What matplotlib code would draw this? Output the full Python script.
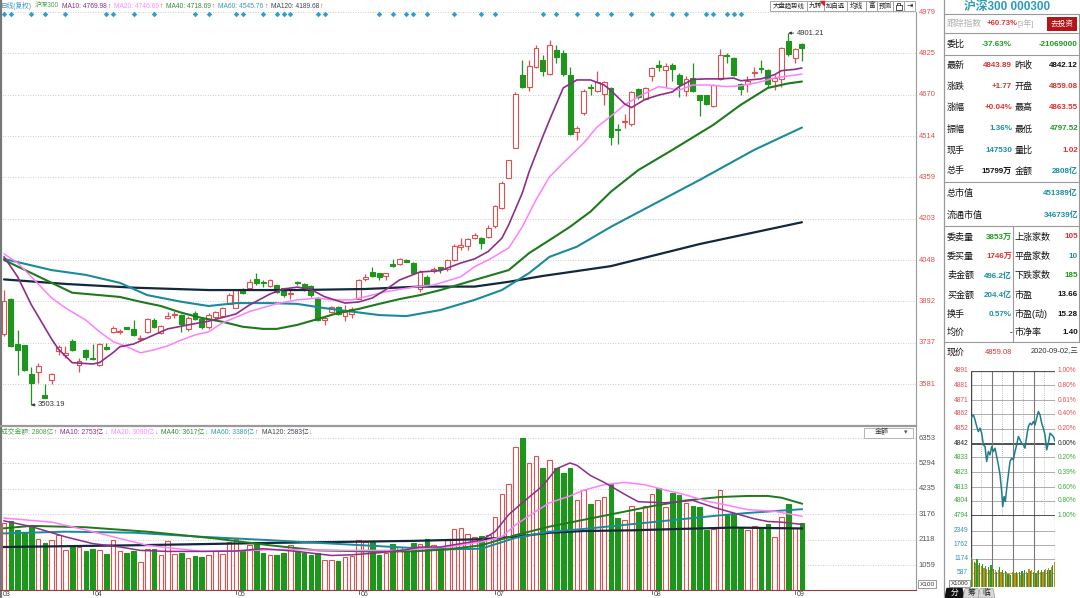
import matplotlib
matplotlib.use('Agg')
import matplotlib.pyplot as plt
from matplotlib.patches import Rectangle, Polygon
from matplotlib.transforms import blended_transform_factory as btf

plt.rcParams['font.family'] = ['Liberation Sans', 'Noto Sans CJK SC', 'DejaVu Sans']
plt.rcParams['axes.unicode_minus'] = False

# ---------------- data ----------------
month_tick_idx = [-0.5, 13, 34, 52, 72, 95, 116]
month_labels = ['03', '04', '05', '06', '07', '08', '09']

opens = [3769, 3901, 3734, 3728, 3620, 3627, 3539, 3595, 3705, 3690,
         3743, 3655, 3708, 3680, 3655, 3720, 3777, 3778, 3795, 3790,
         3750, 3777, 3821, 3774, 3831, 3841, 3841, 3787, 3850, 3825,
         3795, 3833, 3836, 3884, 3868, 3938, 3944, 3976, 3966, 3951,
         3953, 3941, 3919, 3966, 3957, 3949, 3905, 3822, 3852, 3871,
         3836, 3846, 3903, 3975, 4004, 4000, 3989, 4032, 4032, 4048,
         4036, 3938, 3985, 4006, 4020, 4013, 4048, 4098, 4101, 4132,
         4132, 4133, 4176, 4242, 4357, 4470, 4744, 4700, 4775, 4800,
         4748, 4838, 4825, 4745, 4529, 4600, 4700, 4685, 4673, 4696,
         4540, 4568, 4559, 4690, 4655, 4738, 4780, 4763, 4780, 4743,
         4684, 4731, 4668, 4668, 4628, 4730, 4820, 4806, 4709, 4711,
         4750, 4771, 4761, 4721, 4728, 4871, 4806, 4859.08]
highs = [3935, 3905, 3783, 3730, 3645, 3661, 3581, 3622, 3728, 3725,
         3752, 3680, 3712, 3731, 3735, 3737, 3800, 3790, 3797, 3821,
         3766, 3830, 3830, 3805, 3853, 3855, 3845, 3837, 3855, 3830,
         3848, 3858, 3871, 3924, 3934, 3944, 3978, 4000, 3972, 3978,
         3955, 3944, 3935, 3970, 3960, 3955, 3908, 3838, 3875, 3875,
         3877, 3871, 3975, 3994, 4020, 4000, 4000, 4050, 4055, 4050,
         4040, 4011, 3990, 4020, 4022, 4050, 4110, 4129, 4130, 4148,
         4135, 4180, 4255, 4345, 4425, 4680, 4800, 4800, 4855, 4820,
         4876, 4855, 4838, 4775, 4550, 4690, 4710, 4760, 4720, 4700,
         4559, 4596, 4685, 4695, 4700, 4775, 4800, 4790, 4790, 4750,
         4740, 4790, 4670, 4670, 4710, 4840, 4825, 4810, 4712, 4740,
         4775, 4800, 4765, 4745, 4850, 4901.21, 4845, 4863.55]
lows = [3762, 3720, 3615, 3630, 3503.19, 3586, 3528, 3580, 3690, 3680,
        3707, 3628, 3673, 3672, 3650, 3708, 3773, 3770, 3788, 3762,
        3744, 3773, 3793, 3770, 3825, 3830, 3778, 3780, 3822, 3790,
        3790, 3820, 3834, 3881, 3866, 3919, 3940, 3953, 3947, 3948,
        3925, 3909, 3903, 3955, 3930, 3910, 3820, 3802, 3848, 3843,
        3820, 3831, 3900, 3969, 3985, 3972, 3972, 4020, 4030, 4040,
        3998, 3929, 3955, 4000, 4000, 4005, 4045, 4085, 4085, 4128,
        4090, 4130, 4168, 4238, 4355, 4468, 4695, 4685, 4770, 4740,
        4745, 4790, 4740, 4518, 4500, 4595, 4670, 4680, 4630, 4480,
        4484, 4546, 4550, 4655, 4650, 4720, 4760, 4700, 4720, 4660,
        4665, 4680, 4590, 4630, 4625, 4725, 4790, 4740, 4670, 4680,
        4735, 4750, 4700, 4688, 4700, 4815, 4790, 4797.52]
closes = [3894, 3724, 3708, 3634, 3586, 3651, 3529, 3620, 3720, 3698,
          3709, 3670, 3683, 3674, 3731, 3712, 3793, 3781, 3790, 3765,
          3755, 3825, 3796, 3800, 3837, 3846, 3808, 3829, 3825, 3796,
          3843, 3852, 3868, 3915, 3934, 3925, 3966, 3963, 3960, 3972,
          3928, 3915, 3925, 3960, 3934, 3915, 3823, 3830, 3871, 3846,
          3852, 3865, 3972, 3985, 3987, 3985, 4000, 4027, 4050, 4042,
          4001, 4002, 3958, 4016, 4015, 4048, 4101, 4104, 4126, 4142,
          4113, 4167, 4250, 4339, 4423, 4673, 4700, 4779, 4844, 4758,
          4856, 4810, 4748, 4520, 4545, 4685, 4695, 4716, 4716, 4509,
          4535, 4571, 4680, 4661, 4696, 4771, 4775, 4778, 4765, 4709,
          4728, 4684, 4650, 4636, 4705, 4818, 4815, 4744, 4690, 4721,
          4756, 4765, 4709, 4734, 4846, 4821, 4842.12, 4843.89]
volumes = [2804, 2875, 2506, 2449, 2690, 2137, 1981, 2094, 2307, 1683,
           1852, 1810, 1626, 1711, 1683, 1498, 2094, 1640, 1541, 1626,
           1200, 1711, 1711, 1456, 2052, 1498, 1541, 1342, 1428, 1385,
           1456, 1626, 1498, 2023, 2137, 1626, 1881, 1952, 1569, 1456,
           1456, 1555, 1881, 1597, 1569, 1484, 1569, 1285, 1257, 1243,
           1385, 1428, 2094, 2023, 2023, 1484, 1569, 1924, 1810, 1700,
           1995, 1923, 2136, 1882, 1810, 2094, 2562, 2619, 2349, 2235,
           2278, 2306, 3072, 4037, 4434, 5995, 6350, 5315, 5598, 5116,
           5457, 5116, 4889, 5116, 3753, 4179, 3583, 3753, 3895, 4434,
           3016, 2945, 3513, 3271, 3513, 4037, 4264, 3470, 4080, 3981,
           3654, 3513, 3470, 2505, 2562, 4179, 3186, 3228, 2590, 2519,
           2704, 2619, 2789, 2235, 3072, 3583, 2590, 2808]

# price moving averages (candle index, value)
ma10_idx = [0, 2, 4, 7, 8, 10, 13, 14, 16, 17, 19, 21, 24, 27, 30, 34, 36, 39, 41, 43, 45, 47, 50, 52, 54, 56,
            58, 61, 64, 67, 69, 71, 73, 74, 76, 77, 79, 80, 82, 84, 86, 88, 89, 91, 92, 94, 96, 98, 99, 101,
            103, 105, 107, 108, 111, 113, 114, 116, 117]
ma10_val = [4060, 3985, 3880, 3750, 3712, 3662, 3657, 3662, 3700, 3722, 3732, 3755, 3789, 3804, 3818, 3845, 3879,
            3920, 3939, 3946, 3937, 3910, 3886, 3890, 3905, 3937, 3973, 4003, 4008, 4037, 4052, 4080, 4130, 4180,
            4300, 4380, 4512, 4575, 4695, 4725, 4725, 4706, 4685, 4635, 4621, 4652, 4668, 4680, 4700, 4727, 4729,
            4729, 4732, 4722, 4729, 4745, 4760, 4765, 4770]
ma20_idx = [0, 2, 4, 7, 9, 12, 14, 16, 18, 20, 22, 24, 26, 28, 30, 32, 36, 40, 43, 46, 48, 51, 54, 56, 60, 63,
            67, 69, 71, 74, 76, 78, 80, 82, 85, 87, 89, 91, 93, 96, 99, 101, 103, 106, 108, 111, 113, 117]
ma20_val = [4071, 4037, 3985, 3905, 3868, 3822, 3778, 3741, 3722, 3699, 3710, 3725, 3747, 3766, 3778, 3811, 3854,
            3884, 3898, 3905, 3898, 3898, 3916, 3929, 3946, 3954, 3985, 4023, 4048, 4093, 4173, 4274, 4361, 4413,
            4488, 4549, 4589, 4631, 4662, 4700, 4687, 4706, 4706, 4700, 4703, 4718, 4733, 4747]
ma40_idx = [0, 4, 7, 10, 14, 17, 20, 23, 26, 29, 32, 35, 38, 40, 43, 46, 49, 52, 55, 58, 61, 64, 69, 74, 77, 80,
            83, 86, 89, 93, 98, 104, 108, 112, 115, 117]
ma40_val = [4048, 3999, 3962, 3925, 3916, 3909, 3891, 3875, 3850, 3830, 3816, 3797, 3789, 3789, 3804, 3826, 3849,
            3864, 3883, 3901, 3916, 3935, 3973, 4010, 4074, 4123, 4173, 4230, 4305, 4386, 4462, 4556, 4631, 4695,
            4712, 4719]
ma60_idx = [0, 7, 12, 17, 21, 26, 30, 34, 39, 43, 47, 51, 55, 59, 64, 69, 73, 77, 80, 84, 89, 102, 110, 117]
ma60_val = [4052, 4010, 3992, 3962, 3916, 3891, 3875, 3886, 3886, 3883, 3867, 3854, 3841, 3837, 3860, 3898, 3935,
            3999, 4060, 4098, 4173, 4349, 4462, 4546]
ma120_idx = [0, 9, 19, 30, 43, 53, 61, 69, 74, 79, 82, 89, 102, 117]
ma120_val = [3975, 3958, 3944, 3935, 3935, 3939, 3948, 3948, 3966, 3988, 3999, 4025, 4108, 4190]

# turnover moving averages (candle index, value in 亿)
vma10_idx = [0, 4, 9, 13, 17, 20, 24, 29, 34, 38, 43, 48, 51, 55, 59, 61, 64, 67, 70, 72, 74, 76, 79, 81, 83, 84,
             86, 88, 91, 93, 97, 101, 104, 107, 110, 112, 114, 117]
vma10_val = [2900, 2662, 2236, 1952, 1810, 1668, 1626, 1626, 1640, 1739, 1626, 1456, 1484, 1569, 1700, 1810, 1810,
             1952, 2094, 2448, 3157, 3654, 4364, 5073, 5315, 5215, 4789, 4505, 4008, 3697, 3654, 3753, 3470, 3228,
             2987, 2874, 2846, 2753]
vma20_idx = [0, 7, 12, 17, 21, 29, 36, 41, 48, 58, 65, 70, 73, 75, 78, 80, 83, 85, 88, 91, 94, 97, 100, 103, 106,
             109, 113, 117]
vma20_val = [3016, 2846, 2519, 2164, 1881, 1626, 1668, 1711, 1668, 1668, 1810, 2022, 2235, 2732, 3300, 3654, 3938,
             4179, 4406, 4505, 4406, 4179, 3981, 3725, 3555, 3370, 3299, 3090]
vma40_idx = [0, 4, 12, 21, 31, 39, 46, 53, 60, 65, 70, 75, 80, 85, 90, 95, 100, 105, 109, 112, 114, 117]
vma40_val = [2590, 2690, 2633, 2449, 2164, 1881, 1668, 1626, 1626, 1711, 1881, 2306, 2661, 2945, 3228, 3512, 3753,
             3895, 3938, 3938, 3866, 3617]
vma60_idx = [0, 9, 19, 29, 39, 48, 60, 65, 70, 75, 80, 85, 90, 95, 100, 105, 109, 117]
vma60_val = [2377, 2449, 2406, 2236, 2094, 1952, 1767, 1711, 1739, 2192, 2448, 2562, 2704, 2846, 2988, 3130, 3228,
             3386]
vma120_idx = [0, 19, 39, 60, 70, 75, 80, 85, 92, 99, 107, 117]
vma120_val = [1810, 1881, 1980, 2065, 2136, 2235, 2405, 2476, 2505, 2562, 2619, 2583]

signal_idx = [0, 1, 4, 6, 9, 15, 16, 19, 22, 28, 30, 34, 35, 38, 40, 41, 42, 46, 47, 55, 57, 59, 60, 62, 66,
              70, 72, 79, 81, 84, 87, 89, 92, 95, 98, 100, 103, 104, 106, 107, 108]

price_ticks = [4979, 4825, 4670, 4514, 4359, 4203, 4048, 3892, 3737, 3581]
vol_ticks = [6353, 5294, 4235, 3176, 2118, 1059]

# intraday (minute, price)
intra_min = [0, 7.6, 12.3, 17.1, 21.8, 26.6, 31.3, 36, 40.8, 45.5, 50.3, 55, 59.8, 64.5, 69.2, 74, 78.7, 83.5,
             88.2, 91.1, 94.9, 98.7, 102.5, 107.2, 111.9, 116.7, 121.4, 126.2, 130.9, 135.7, 140.4, 145.1, 149.9,
             154.6, 159.4, 164.1, 168.9, 173.6, 178.3, 183.1, 187.8, 192.6, 197.3, 202.1, 206.8, 211.5, 216.3,
             221, 225.8, 230.5, 235.3, 240]
intra_price = [4859.1, 4861.4, 4858.0, 4853.6, 4850.2, 4852.5, 4849.1, 4841.3, 4840.2, 4830.2, 4836.9, 4834.6,
               4840.2, 4836.9, 4839.1, 4833.5, 4828.0, 4821.3, 4810.1, 4800.1, 4806.8, 4803.5, 4812.4, 4821.3,
               4830.2, 4832.4, 4831.3, 4836.9, 4841.3, 4846.9, 4844.7, 4842.4, 4841.3, 4839.1, 4846.9, 4853.6,
               4855.8, 4854.7, 4856.9, 4854.7, 4859.2, 4863.6, 4861.4, 4855.8, 4852.5, 4848.0, 4838.0, 4842.4,
               4849.1, 4848.0, 4846.9, 4843.9]
intra_vol = [1230, 1100, 1050, 980, 1150, 900, 1000, 850, 950, 800,
             880, 760, 820, 700, 900, 650, 760, 700, 620, 680,
             820, 600, 700, 560, 640, 600, 520, 580, 500, 620,
             700, 560, 620, 540, 600, 500, 660, 560, 700, 620,
             580, 760, 640, 700, 600, 680, 560, 640, 720, 600,
             680, 620, 700, 760, 680, 800, 720, 840, 900, 1050]
intra_ticks = [4891, 4881, 4871, 4862, 4852, 4842, 4833, 4823, 4813, 4804, 4794]
intra_pct = ['1.00%', '0.80%', '0.61%', '0.40%', '0.20%', '0.00%', '0.20%', '0.39%', '0.60%', '0.80%', '1.00%']
intra_vol_ticks = [2349, 1762, 1174, 587]

# ---------------- figure ----------------
W, H = 1080, 598
fig = plt.figure(figsize=(W / 100, H / 100), dpi=100)
fig.patch.set_facecolor('white')


def px_axes(x0, y0, x1, y1, z=1):
    a = fig.add_axes([x0 / W, 1 - y1 / H, (x1 - x0) / W, (y1 - y0) / H], zorder=z)
    a.set_axis_off()
    return a


STEP, X0 = 6.82, 4.0
XL = ((0 - X0) / STEP, (916 - X0) / STEP)


def price_at(ypx):
    return 4048 - (ypx - 260) * 3.76


RED = '#e05050'
GRN = '#1e961e'
C10, C20, C40, C60, C120 = '#8b2f8b', '#ff7fff', '#1d7a1d', '#1b8a9a', '#13283d'

# ----- main price panel -----
axm = px_axes(0, 0, 916, 426)
axm.set_xlim(*XL)
axm.set_ylim(price_at(426), price_at(0))
tr_m = btf(axm.transAxes, axm.transData)
for v in price_ticks:
    axm.axhline(v, color='#bcbcbc', lw=0.6, ls=(0, (1, 2)), zorder=0)
    axm.text(1.003, v, str(v), transform=tr_m, fontsize=5.5, color='#d9534f', va='center', ha='left',
             clip_on=False)

for i, (o, h, l, c) in enumerate(zip(opens, highs, lows, closes)):
    up = c >= o
    col = RED if up else GRN
    axm.vlines(i, l, h, color=col, lw=0.9, zorder=3)
    axm.add_patch(Rectangle((i - 0.36, min(o, c)), 0.72, max(abs(c - o), 2.5),
                            facecolor='white' if up else GRN, edgecolor=col, lw=0.8, zorder=4))

for xs, ys, col, lw in [(ma120_idx, ma120_val, C120, 1.6), (ma60_idx, ma60_val, C60, 1.5),
                        (ma40_idx, ma40_val, C40, 1.5), (ma20_idx, ma20_val, C20, 1.1),
                        (ma10_idx, ma10_val, C10, 1.2)]:
    axm.plot(xs, ys, color=col, lw=lw, zorder=5, solid_capstyle='round')

# signal diamonds
tr_d = btf(axm.transData, axm.transAxes)
axm.plot(signal_idx, [1 - 13.7 / 426] * len(signal_idx), 'D', transform=tr_d, color='#2a9fd0',
         ms=2.8, mew=0, zorder=6, clip_on=False)

# extreme annotations
hi_i = highs.index(max(highs))
lo_i = lows.index(min(lows))
axm.annotate(f'{max(highs):.2f}', xy=(hi_i, max(highs)), xytext=(hi_i + 1.2, max(highs)),
             fontsize=5.5, color='#333', va='center', ha='left',
             arrowprops=dict(arrowstyle='-|>', lw=0.6, color='#333', mutation_scale=4,
                             shrinkA=0, shrinkB=0), zorder=7)
axm.annotate(f'{min(lows):.2f}', xy=(lo_i, min(lows)), xytext=(lo_i + 1.0, min(lows)),
             fontsize=5.5, color='#333', va='center', ha='left',
             arrowprops=dict(arrowstyle='-|>', lw=0.6, color='#333', mutation_scale=4,
                             shrinkA=0, shrinkB=0), zorder=7)

# ----- volume panel -----
axv = px_axes(0, 426, 916, 590.4)
axv.set_xlim(*XL)
axv.set_ylim(0, (590.4 - 426) * 41.7)
tr_v = btf(axv.transAxes, axv.transData)
for v in vol_ticks:
    axv.axhline(v, color='#bcbcbc', lw=0.6, ls=(0, (1, 2)), zorder=0)
    axv.text(1.003, v, str(v), transform=tr_v, fontsize=5.5, color='#555555', va='center', ha='left',
             clip_on=False)
for i, (o, c, vol) in enumerate(zip(opens, closes, volumes)):
    up = c >= o
    col = RED if up else GRN
    axv.bar(i, vol, width=0.68, facecolor='white' if up else GRN, edgecolor=col, lw=0.8, zorder=3)
for xs, ys, col, lw in [(vma120_idx, vma120_val, C120, 1.6), (vma60_idx, vma60_val, C60, 1.4),
                        (vma40_idx, vma40_val, C40, 1.4), (vma20_idx, vma20_val, C20, 1.1),
                        (vma10_idx, vma10_val, C10, 1.1)]:
    axv.plot(xs, ys, color=col, lw=lw, zorder=5)

# month ticks / labels
tr_x = btf(axv.transData, axv.transAxes)
for t, lab in zip(month_tick_idx, month_labels):
    axv.plot([t, t], [0, -0.022], transform=tr_x, color='#555', lw=0.6, clip_on=False)
    axv.text(t + 0.25, -0.022, lab, transform=tr_x, fontsize=5.0, color='#444', ha='left', va='center',
             clip_on=False)

# ----- intraday panel -----
axi = px_axes(970.7, 370.5, 1055, 515.7, z=2)
axi.set_xlim(0, 240)
axi.set_ylim(4794, 4891)
tr_i = btf(axi.transAxes, axi.transData)
for v, p in zip(intra_ticks, intra_pct):
    if v == 4842:
        axi.axhline(v, color='#333', lw=1.2, zorder=1)
        col = '#222222'
    else:
        axi.axhline(v, color='#a0a0a0', lw=0.6, zorder=1)
        col = '#e05050' if v > 4842 else '#3ea83e'
    axi.text(-0.03, v, str(v), transform=tr_i, fontsize=4.8, color=col, ha='right', va='center', clip_on=False)
    axi.text(1.03, v, p, transform=tr_i, fontsize=4.8, color=col, ha='left', va='center', clip_on=False)
for m in (60, 120, 180):
    axi.axvline(m, color='#777', lw=0.8, zorder=1)
for m in (30, 90, 150, 210):
    axi.axvline(m, color='#aaa', lw=0.6, ls=(0, (1, 1.5)), zorder=1)
axi.axvline(0, color='#444', lw=1, zorder=1)
axi.axvline(240, color='#777', lw=0.8, zorder=1)
axi.axhline(4891, color='#555', lw=0.9)
axi.axhline(4794, color='#333', lw=1.2)
axi.plot(intra_min, intra_price, color='#1e7f8c', lw=1.1, zorder=3)

axiv = px_axes(970.7, 515.7, 1055, 586.7, z=2)
axiv.set_xlim(0, 240)
axiv.set_ylim(0, (586.7 - 515.7) / 14 * 587)
tr_iv = btf(axiv.transAxes, axiv.transData)
for v in intra_vol_ticks:
    axiv.axhline(v, color='#a0a0a0', lw=0.6, zorder=1)
    axiv.text(-0.03, v, str(v), transform=tr_iv, fontsize=4.8, color='#3a8fb0', ha='right', va='center',
              clip_on=False)
for m in (60, 120, 180):
    axiv.axvline(m, color='#777', lw=0.8, zorder=1)
axiv.axvline(0, color='#444', lw=1)
axiv.axvline(240, color='#777', lw=0.8)
for k, v in enumerate(intra_vol):
    axiv.bar(2 + 4 * k, v, width=3.4, color='#2a9a2a' if k % 2 == 0 else '#cc8a22', zorder=2, lw=0)

# ----- overlay (frames, legends, info panel) -----
ov = px_axes(0, 0, W, H, z=10)
ov.set_xlim(0, W)
ov.set_ylim(H, 0)
fig.canvas.draw()
rend = fig.canvas.get_renderer()


def hl(y, x0, x1, c='#999', lw=0.8):
    ov.plot([x0, x1], [y, y], color=c, lw=lw)


def vl(x, y0, y1, c='#999', lw=0.8):
    ov.plot([x, x], [y0, y1], color=c, lw=lw)


def chain(items, x, y, fs):
    for s, c, gap in items:
        t = ov.text(x, y, s, fontsize=fs, color=c, ha='left', va='center')
        x += t.get_window_extent(renderer=rend).width + gap


vl(0.8, 0, 598, '#777', 1.6)
vl(916, 12, 590, '#999', 0.8)
vl(944, 0, 598, '#999', 0.9)
hl(426, 0, 916, '#9a9a9a', 1.6)
hl(590.4, 0, 916, '#8a4040', 0.8)

UP, DN = '#e03030', '#30c0e0'
# top legend
chain([('日线(复权)', '#3b9ac4', 3), ('沪深300', '#4aa04a', 3),
       ('MA10: 4769.98', C10, 0.3), ('↑', UP, 3.5),
       ('MA20: 4746.69', '#ff88ff', 0.3), ('↑', UP, 3.5),
       ('MA40: 4718.69', '#3a8a3a', 0.3), ('↑', UP, 3.5),
       ('MA60: 4545.76', '#3a9aaa', 0.3), ('↑', UP, 3.5),
       ('MA120: 4189.68', '#444455', 0.3), ('↑', UP, 3.5)], 1, 6, 4.8)

# volume legend
chain([('成交金额: 2808亿', '#4aa04a', 0.3), ('↑', UP, 3.5),
       ('MA10: 2753亿', C10, 0.3), ('↓', DN, 3.5),
       ('MA20: 3090亿', '#ff88ff', 0.3), ('↓', DN, 3.5),
       ('MA40: 3617亿', '#3a8a3a', 0.3), ('↓', DN, 3.5),
       ('MA60: 3386亿', '#3a9aaa', 0.3), ('↑', UP, 3.5),
       ('MA120: 2583亿', '#444455', 0.3), ('↓', DN, 3.5)], 1, 432.5, 4.9)

# dropdown
ov.add_patch(Rectangle((864, 428), 49, 9.5, facecolor='white', edgecolor='#aaa', lw=0.6))
ov.text(882, 433, '金额', fontsize=5, color='#333', ha='center', va='center')
ov.text(906, 433, '▾', fontsize=5, color='#555', ha='center', va='center')

# X100 box
ov.add_patch(Rectangle((918, 580), 18, 8, facecolor='white', edgecolor='#888', lw=0.6))
ov.text(927, 584, 'X100', fontsize=4.6, color='#333', ha='center', va='center')

# toolbar
tool = [(770, 807, '大盘趋势线', 4.6), (807, 824, '九转', 4.8), (824, 847, '加自选', 4.6), (847, 866, '均线', 4.8),
        (866, 877, '富', 4.8), (877, 893, '预测', 4.8), (893, 904, '', 4.8), (904, 915, '⇥', 5.5)]
for x0, x1, s, fs in tool:
    ov.add_patch(Rectangle((x0, 0.5), x1 - x0, 10.5, facecolor='white', edgecolor='#9a9a9a', lw=0.6))
    ov.text((x0 + x1) / 2, 6, s, fontsize=fs, color='#222', ha='center', va='center')
ov.add_patch(Polygon([[820, 0.5], [824, 0.5], [824, 4.5]], closed=True, color='#e02020'))
ov.add_patch(Rectangle((895.5, 5), 6, 4.5, facecolor='white', edgecolor='#333', lw=0.6))
ov.plot([896.8, 896.8, 900.2, 900.2], [5, 2.6, 2.6, 5], color='#333', lw=0.6)

# right info panel
ov.text(1007, 7, '沪深300 000300', fontsize=8.5, color='#2c9cb5', ha='center', va='center', weight='bold')
hl(14, 944, 1079)
hl(33, 944, 1079)
hl(55, 944, 1079)
hl(182.3, 944, 1079)
hl(226, 944, 1079)
hl(341.7, 944, 1079)
vl(1079.3, 14, 341.7)
vl(1013.3, 226, 341.7)

ov.text(947, 23.5, '跟踪指数', fontsize=6.3, color='#b0b0b0', ha='left', va='center')
ov.text(987, 23.5, '+60.73%', fontsize=5.6, color='#e03030', ha='left', va='center', weight='bold')
ov.text(1018, 23.5, '[3年]', fontsize=5.6, color='#b0b0b0', ha='left', va='center')
ov.add_patch(Rectangle((1047, 17), 30, 13.5, facecolor='#b3151b', edgecolor='none'))
ov.text(1062, 23.8, '去投资', fontsize=5.5, color='white', ha='center', va='center')

LBL, NUM = 6.5, 5.8
R_RED, R_GRN, R_TEAL, R_BLK = '#e03030', '#1e9a1e', '#1a8fa0', '#111111'
ov.text(947, 44.5, '委比', fontsize=LBL, color='#111', ha='left', va='center')
ov.text(1012, 44.5, '-37.63%', fontsize=NUM, color=R_GRN, ha='right', va='center', weight='bold')
ov.text(1078, 44.5, '-21069000', fontsize=NUM, color=R_GRN, ha='right', va='center', weight='bold')

rows = [(65.7, '最新', '4843.89', R_RED, '昨收', '4842.12', R_BLK),
        (86.7, '涨跌', '+1.77', R_RED, '开盘', '4859.08', R_RED),
        (107.7, '涨幅', '+0.04%', R_RED, '最高', '4863.55', R_RED),
        (129, '振幅', '1.36%', R_TEAL, '最低', '4797.52', R_GRN),
        (150, '现手', '147530', R_TEAL, '量比', '1.02', R_RED),
        (171, '总手', '15799万', R_BLK, '金额', '2808亿', R_TEAL),
        (237, '委卖量', '3853万', R_GRN, '上涨家数', '105', R_RED),
        (256.7, '委买量', '1746万', R_RED, '平盘家数', '10', R_TEAL),
        (275.7, '卖金额', '496.2亿', R_TEAL, '下跌家数', '185', R_GRN),
        (295, '买金额', '204.4亿', R_TEAL, '市盈', '13.66', R_BLK),
        (314, '换手', '0.57%', R_TEAL, '市盈(动)', '15.28', R_BLK),
        (332.7, '均价', '-', R_BLK, '市净率', '1.40', R_BLK)]
for y, l1, v1, c1, l2, v2, c2 in rows:
    ov.text(947, y, l1, fontsize=LBL, color='#111', ha='left', va='center')
    ov.text(1012, y, v1, fontsize=NUM, color=c1, ha='right', va='center', weight='bold')
    ov.text(1014.5, y, l2, fontsize=LBL, color='#111', ha='left', va='center')
    ov.text(1078, y, v2, fontsize=NUM, color=c2, ha='right', va='center', weight='bold')

ov.text(947, 193, '总市值', fontsize=LBL, color='#111', ha='left', va='center')
ov.text(1078, 193, '451389亿', fontsize=NUM, color=R_TEAL, ha='right', va='center', weight='bold')
ov.text(947, 215, '流通市值', fontsize=LBL, color='#111', ha='left', va='center')
ov.text(1078, 215, '346739亿', fontsize=NUM, color=R_TEAL, ha='right', va='center', weight='bold')

ov.text(947, 352, '现价', fontsize=LBL, color='#111', ha='left', va='center')
ov.text(1012, 352, '4859.08', fontsize=NUM - 0.4, color=R_RED, ha='right', va='center')
ov.text(1078, 352, '2020-09-02,三', fontsize=NUM - 0.4, color='#333', ha='right', va='center')

# X1000 box
ov.add_patch(Rectangle((949, 580), 21, 7, facecolor='white', edgecolor='#888', lw=0.6))
ov.text(959.5, 583.6, 'X1000', fontsize=4.4, color='#333', ha='center', va='center')

# bottom tabs
ov.add_patch(Polygon([[945, 598], [947, 588.5], [962, 588.5], [964, 598]], closed=True, facecolor='#111',
                     edgecolor='#111'))
ov.text(954.5, 593.3, '分', fontsize=5.6, color='white', ha='center', va='center')
for x0, s in [(963, '筹'), (978, '临')]:
    ov.add_patch(Polygon([[x0, 598], [x0 + 2, 588.5], [x0 + 15, 588.5], [x0 + 17, 598]], closed=True,
                         facecolor='#d8d8d8', edgecolor='#999', lw=0.5))
    ov.text(x0 + 8.5, 593.3, s, fontsize=5.6, color='#222', ha='center', va='center')

fig.savefig('out.png', dpi=100, facecolor='white')
